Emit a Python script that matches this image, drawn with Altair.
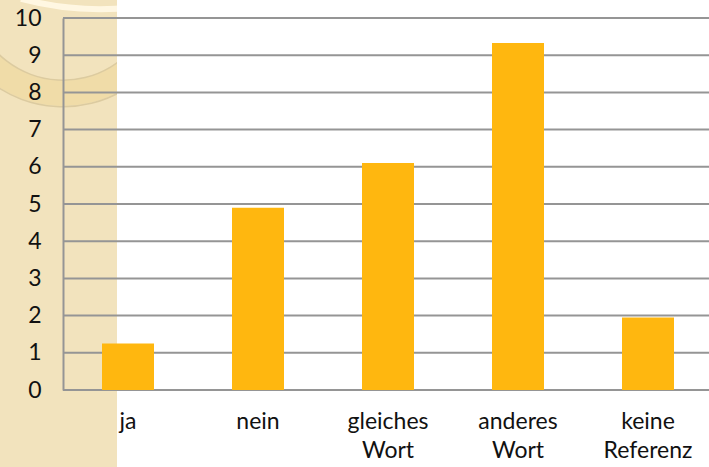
import altair as alt
import pandas as pd

# Answer categories and counts
categories = ["ja", "nein", "gleiches Wort", "anderes Wort", "keine Referenz"]
values = [1.25, 4.9, 6.1, 9.33, 1.95]
y_ticks = [0, 1, 2, 3, 4, 5, 6, 7, 8, 9, 10]

df = pd.DataFrame({"Kategorie": categories, "Wert": values})
grid_df = pd.DataFrame({"t": y_ticks})

FONT = "Lato"
GRID = "#959595"
BAR = "#FFB70F"

x_enc = alt.X(
    "Kategorie:N",
    sort=categories,
    scale=alt.Scale(paddingInner=0.6, paddingOuter=0.3, range=[0, 650]),
    axis=alt.Axis(
        title=None, labelAngle=0, labelFont=FONT, labelFontSize=23,
        labelColor="#111111", labelPadding=20, labelBaseline="top",
        labelLineHeight=29, labelExpr="split(datum.label, ' ')",
        ticks=False, domain=False, grid=False, zindex=1,
    ),
)
y_scale = alt.Scale(domain=[0, 10], nice=False)
y_axis = alt.Axis(
    title=None, values=y_ticks, labelFont=FONT, labelFontSize=23,
    labelColor="#111111", labelPadding=22, labelOverlap=False,
    ticks=False, grid=False,
    domain=True, domainColor=GRID, domainWidth=2, zindex=1,
)

# Theme strip on the left with decorative arcs
strip = alt.Chart(pd.DataFrame({"a": [0]})).mark_rect(color="#F2E3BD").encode(
    x=alt.value(-70), x2=alt.value(54), y=alt.value(-30), y2=alt.value(460)
)
band = alt.Chart(pd.DataFrame({"a": [0]})).mark_arc(
    color="#F0DCA8", radius=118, radius2=92, theta=2.0, theta2=4.4
).encode(x=alt.value(0), y=alt.value(-30))
arc_line1 = alt.Chart(pd.DataFrame({"a": [0]})).mark_arc(
    color="#DCCBA0", radius=93, radius2=91.5, theta=2.0, theta2=4.4
).encode(x=alt.value(0), y=alt.value(-30))
arc_line2 = alt.Chart(pd.DataFrame({"a": [0]})).mark_arc(
    color="#DCCBA0", radius=119.5, radius2=118, theta=2.0, theta2=4.4
).encode(x=alt.value(0), y=alt.value(-30))
top_arc = alt.Chart(pd.DataFrame({"a": [0]})).mark_arc(
    color="#FFF7E2", radius=312, radius2=306, theta=2.9, theta2=3.4
).encode(x=alt.value(37), y=alt.value(-318))
white = alt.Chart(pd.DataFrame({"a": [0]})).mark_rect(color="white").encode(
    x=alt.value(54), x2=alt.value(700), y=alt.value(-30), y2=alt.value(460)
)

# Horizontal gridlines, drawn as marks so they sit above the background strip
grid = alt.Chart(grid_df).mark_rule(color=GRID, strokeWidth=2).encode(
    y=alt.Y("t:Q", scale=y_scale, axis=y_axis)
)

bars = alt.Chart(df).mark_bar(color=BAR).encode(
    x=x_enc,
    y=alt.Y("Wert:Q", scale=y_scale, axis=y_axis),
)

chart = alt.layer(strip, band, arc_line1, arc_line2, top_arc, white, grid, bars).properties(
    width=646,
    height=372,
    autosize=alt.AutoSizeParams(type="none"),
    padding={"left": 63, "top": 18, "right": 0, "bottom": 77},
).configure_view(stroke=None)

chart.save("out.html", embed_options={"renderer": "svg", "actions": False})
